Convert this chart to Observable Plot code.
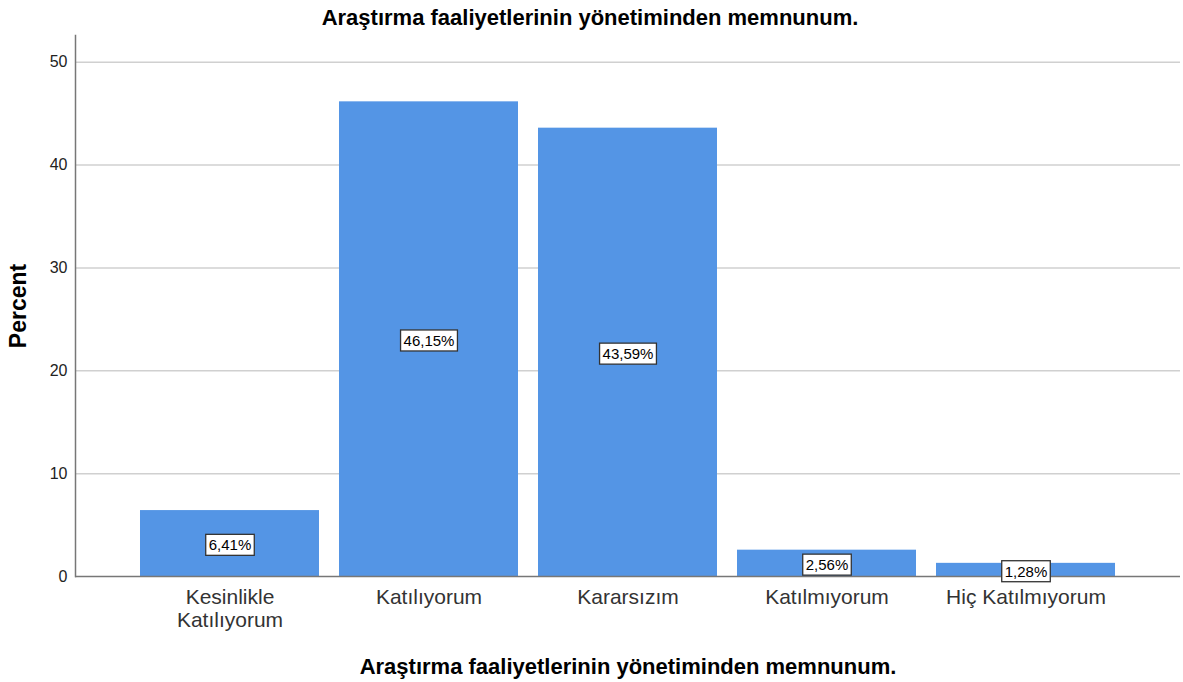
<!DOCTYPE html>
<html>
<head>
<meta charset="utf-8">
<script src="https://cdn.jsdelivr.net/npm/d3@7"></script>
<script src="https://cdn.jsdelivr.net/npm/@observablehq/plot@0.6"></script>
<style>
  html, body { margin: 0; padding: 0; background: #fff; }
  #chart svg { display: block; }
</style>
</head>
<body>
<div id="chart"></div>
<script>
const categories = ["Kesinlikle\nKatılıyorum", "Katılıyorum", "Kararsızım", "Katılmıyorum", "Hiç Katılmıyorum"];
const percents = [6.41, 46.15, 43.59, 2.56, 1.28];
const labels = ["6,41%", "46,15%", "43,59%", "2,56%", "1,28%"];
const yTicks = [0, 10, 20, 30, 40, 50];
const gridTicks = [10, 20, 30, 40, 50];
const titleText = "Araştırma faaliyetlerinin yönetiminden memnunum.";
const xTitle = "Araştırma faaliyetlerinin yönetiminden memnunum.";
const yTitle = "Percent";

const data = categories.map((c, i) => ({cat: c, value: percents[i], label: labels[i]}));

const font = "'Liberation Sans', Arial, sans-serif";

const plot = Plot.plot({
  width: 1183,
  height: 682,
  marginTop: 35,
  marginBottom: 106,
  marginLeft: 75,
  marginRight: 3,
  style: {fontFamily: font, background: "#fff"},
  x: {domain: categories, paddingInner: 0.1005, paddingOuter: 0.3266, round: false, label: null, axis: null},
  y: {domain: [0, 52.6], label: null, axis: null},
  marks: [
    Plot.ruleY(gridTicks, {stroke: "#d0d0d0", strokeWidth: 1.5}),
    Plot.barY(data, {x: "cat", y: "value", fill: "#5495e5"}),
    Plot.frame({anchor: "left", stroke: "#777", strokeWidth: 1.5}),
    Plot.ruleY([0], {stroke: "#777", strokeWidth: 1.5}),
    Plot.axisY(yTicks, {tickSize: 0, tickPadding: 8, fontSize: 16, fill: "#222", label: null}),
    Plot.axisX({tickSize: 0, tickPadding: 11, fontSize: 21, fill: "#333", lineHeight: 1.1, label: null}),
    Plot.text(data, {x: "cat", y: d => d.value / 2, text: "label", fontSize: 15, fill: "#000", dy: 2, className: "vlabel"}),
    Plot.text([titleText], {frameAnchor: "top", lineAnchor: "middle", dy: -18, dx: -38, fontSize: 22, fontWeight: "bold", fill: "#000"}),
    Plot.text([xTitle], {frameAnchor: "bottom", lineAnchor: "middle", dy: 90, fontSize: 22, fontWeight: "bold", fill: "#000"}),
    Plot.text([yTitle], {frameAnchor: "left", textAnchor: "middle", lineAnchor: "middle", dx: -57, rotate: -90, fontSize: 23, fontWeight: "bold", fill: "#000"})
  ]
});

document.getElementById("chart").appendChild(plot);

// white boxes behind value labels
d3.select(plot).selectAll("g.vlabel text").each(function() {
  const bb = this.getBBox();
  d3.select(this.parentNode).insert("rect", () => this)
    .attr("transform", this.getAttribute("transform"))
    .attr("x", bb.x - 3).attr("y", bb.y - 2)
    .attr("width", bb.width + 6).attr("height", bb.height + 4)
    .attr("fill", "#fff").attr("stroke", "#333").attr("stroke-width", 1.3);
});
</script>
</body>
</html>
